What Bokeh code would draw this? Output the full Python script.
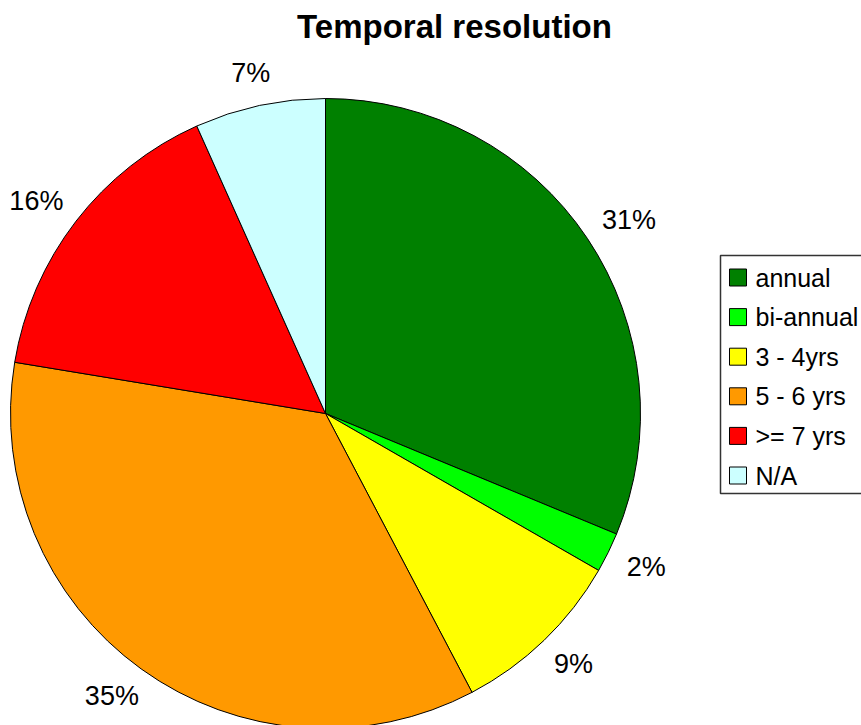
import math
from bokeh.plotting import figure
from bokeh.models import Range1d, ColumnDataSource
from bokeh.core.properties import value
from bokeh.embed import file_html
from bokeh.resources import INLINE

# ---- data (percent shares) ----
categories = ["annual", "bi-annual", "3 - 4yrs", "5 - 6 yrs", ">= 7 yrs", "N/A"]
shares = [31.25, 2.05, 9.0, 35.3, 15.7, 6.7]
colors = ["#008000", "#00FF00", "#FFFF00", "#FF9900", "#FF0000", "#CCFFFF"]
title_text = "Temporal resolution"

# ---- layout (data coords = screen pixels, y flipped) ----
W, H = 861, 725
def Y(sy):
    return H - sy

CX, CY, R = 325, Y(413), 315
R_LABEL = 338          # distance of label box from centre
LABEL_PX = 27
FONT = "Liberation Sans"

def text_half_width(s, px):
    w = 0.0
    for ch in s:
        w += 0.889 if ch == "%" else 0.556
    return w * px / 2

total = sum(shares)
fracs = [s / total for s in shares]
starts, ends, lx, ly, labels = [], [], [], [], []
cum = 0.0
for f in fracs:
    a0 = math.pi / 2 - 2 * math.pi * cum
    a1 = math.pi / 2 - 2 * math.pi * (cum + f)
    starts.append(a0)
    ends.append(a1)
    mid = (a0 + a1) / 2
    ux, uy = math.cos(mid), math.sin(mid)
    lab = f"{round(f * 100)}%"
    hw = text_half_width(lab, LABEL_PX)
    hh = 10
    lx.append(CX + R_LABEL * ux + hw * ux)
    ly.append(CY + R_LABEL * uy + hh * uy)
    labels.append(lab)
    cum += f

src = ColumnDataSource(dict(cat=categories, color=colors, start=starts, end=ends,
                            lx=lx, ly=ly, label=labels))

p = figure(width=W, height=H, output_backend="svg", toolbar_location=None,
           x_range=Range1d(0, W), y_range=Range1d(0, H),
           x_axis_type=None, y_axis_type=None,
           min_border=0, min_border_left=0, min_border_right=0,
           min_border_top=0, min_border_bottom=0)
p.grid.visible = False
p.outline_line_color = None
p.background_fill_color = "white"
p.border_fill_color = "white"

p.wedge(x=CX, y=CY, radius=R, start_angle="start", end_angle="end",
        direction="clock", fill_color="color", line_color="black",
        line_width=1, source=src)

p.text(x="lx", y="ly", text="label", source=src, text_align="center",
       text_baseline="middle", text_font=value(FONT),
       text_font_size=f"{LABEL_PX}px", text_color="black")

# title
p.text(x=[454], y=[Y(26)], text=[title_text], text_align="center",
       text_baseline="middle", text_font=value(FONT),
       text_font_size="33px", text_font_style="bold", text_color="black")

# legend box
p.quad(left=[720], right=[900], top=[Y(255)], bottom=[Y(493)],
       fill_color="white", line_color="#333333", line_width=1.5)
row_y = [Y(277 + 39.6 * i) for i in range(len(categories))]
p.rect(x=[737.5] * len(categories), y=row_y, width=17, height=17,
       fill_color=colors, line_color="black", line_width=1)
p.text(x=[755] * len(categories), y=row_y, text=categories,
       text_align="left", text_baseline="middle", text_font=value(FONT),
       text_font_size="25px", text_color="black")

open("out.html", "w").write(file_html(p, INLINE))
